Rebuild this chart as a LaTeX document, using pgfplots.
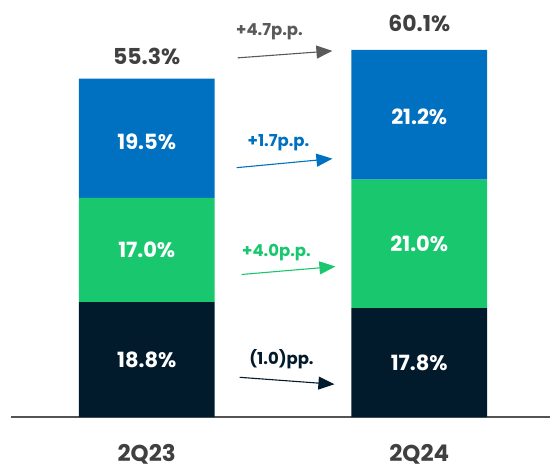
\documentclass[border=0pt]{standalone}
\usepackage{pgfplots}
\pgfplotsset{compat=1.18}
\usepackage{pgfplotstable}
\usepackage{fontspec}
\setmainfont{Poppins}
\usetikzlibrary{arrows.meta}
\definecolor{cnavy}{HTML}{021B2C}
\definecolor{cgreen}{HTML}{19C86E}
\definecolor{cblue}{HTML}{0070C0}
\definecolor{cgray}{HTML}{404040}
\definecolor{carrgray}{HTML}{5A5A5A}
\pgfplotstableread{
x navy green blue
0 18.8 17.0 19.5
1 17.8 21.0 21.2
}\shares
\begin{document}
\begin{tikzpicture}
\begin{axis}[
  name=ax,
  scale only axis,
  width=540pt, height=418pt,
  xmin=-0.4982, xmax=1.4799,
  ymin=0, ymax=68.13,
  ybar stacked,
  bar width=136pt,
  axis x line=bottom,
  axis y line=none,
  x axis line style={draw=cgray!90, line width=2pt, -},
  xtick={0,1},
  xticklabels={2Q23,2Q24},
  major tick length=0pt,
  xticklabel style={font=\fontsize{23}{26}\selectfont\bfseries, text=cgray, anchor=center, inner sep=0pt, yshift=-37pt},
  clip=false,
]
\addplot[fill=cnavy, draw=none] table[x=x, y=navy] {\shares};
\addplot[fill=cgreen, draw=none] table[x=x, y=green] {\shares};
\addplot[fill=cblue, draw=none] table[x=x, y=blue] {\shares};

\coordinate (a1) at (axis cs:0,9.4);
\coordinate (a2) at (axis cs:0,27.3);
\coordinate (a3) at (axis cs:0,45.05);
\coordinate (b1) at (axis cs:1,8.9);
\coordinate (b2) at (axis cs:1,28.3);
\coordinate (b3) at (axis cs:1,49.1);

\node[font=\fontsize{22}{26}\selectfont\bfseries, text=cgray, anchor=base] at (axis cs:0,57.54) {55.3\%};
\node[font=\fontsize{22}{26}\selectfont\bfseries, text=cgray, anchor=base] at (axis cs:1,62.92) {60.1\%};

\node[font=\fontsize{16.5}{19}\selectfont\bfseries, anchor=base, text=carrgray] at (axis cs:0.4505,62.27) {+4.7p.p.};
\node[font=\fontsize{16.5}{19}\selectfont\bfseries, anchor=base, text=cblue] at (axis cs:0.4835,44.22) {+1.7p.p.};
\node[font=\fontsize{16.5}{19}\selectfont\bfseries, anchor=base, text=cgreen] at (axis cs:0.4762,26.3) {+4.0p.p.};
\node[font=\fontsize{16.5}{19}\selectfont\bfseries, anchor=base, text=cnavy] at (axis cs:0.4945,8.64) {(1.0)pp.};

\draw[carrgray, line width=1.1pt, -{Triangle[length=16pt,width=13pt]}] (axis cs:0.3333,58.68) -- (axis cs:0.6813,59.82);
\draw[cblue, line width=1.1pt, -{Triangle[length=16pt,width=13pt]}] (axis cs:0.3297,40.75) -- (axis cs:0.6813,42.22);
\draw[cgreen, line width=1.1pt, -{Triangle[length=16pt,width=13pt]}] (axis cs:0.348,23.31) -- (axis cs:0.6923,24.61);
\draw[cnavy, line width=1.1pt, -{Triangle[length=16pt,width=13pt]}] (axis cs:0.3407,6.52) -- (axis cs:0.6886,5.38);
\end{axis}
\begin{scope}[every node/.style={font=\fontsize{21}{24}\selectfont\bfseries, text=white, anchor=center}]
\node at (a1) {18.8\%};
\node at (a2) {17.0\%};
\node at (a3) {19.5\%};
\node at (b1) {17.8\%};
\node at (b2) {21.0\%};
\node at (b3) {21.2\%};
\end{scope}
\path[use as bounding box] ([xshift=-11pt,yshift=-51pt]ax.south west) rectangle (ax.north east);
\end{tikzpicture}
\end{document}
